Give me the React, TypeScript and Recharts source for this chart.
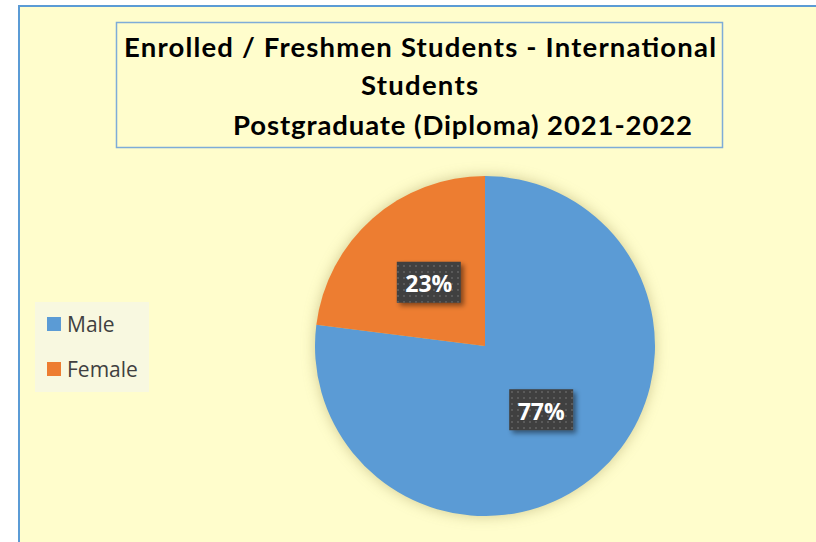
import { Cell, Legend, Pie, PieChart } from "recharts"

const categories = ["Male", "Female"]
const shares = [77, 23]
const COLORS = ["#5B9BD5", "#ED7D31"]

const titleLines = [
  "Enrolled / Freshmen Students - International",
  "Students",
  "Postgraduate (Diploma) 2021-2022",
]

const data = categories.map((name, i) => ({ name, value: shares[i] }))

const RADIAN = Math.PI / 180

function renderLabel(props: any) {
  const { cx, cy, midAngle, outerRadius, value } = props
  const r = outerRadius * 0.5
  const x = cx + r * Math.cos(-midAngle * RADIAN)
  const y = cy + r * Math.sin(-midAngle * RADIAN)
  const w = 64
  const h = 41
  return (
    <g>
      <rect x={x - w / 2} y={y - h / 2} width={w} height={h} fill="#404040" filter="url(#lblShadow)" />
      <rect x={x - w / 2} y={y - h / 2} width={w} height={h} fill="url(#dots)" />
      <text
        x={x}
        y={y + 1}
        textAnchor="middle"
        dominantBaseline="central"
        fill="#ffffff"
        fontFamily="'Open Sans', sans-serif"
        fontWeight={700}
        fontSize={23}
      >
        {value}%
      </text>
    </g>
  )
}

// legend drawn in the original order (Male, Female)
function LegendBox() {
  return (
    <div
      style={{
        width: 114,
        height: 90,
        background: "#F8F8E0",
        boxSizing: "border-box",
        paddingTop: 8,
        paddingLeft: 12,
        fontFamily: "'Open Sans', sans-serif",
        fontSize: 21,
        color: "#404040",
      }}
    >
      {categories.map((name, i) => (
        <div key={name} style={{ display: "flex", alignItems: "center", height: 28, marginBottom: i === 0 ? 17 : 0 }}>
          <span style={{ width: 14, height: 14, background: COLORS[i], display: "inline-block", marginRight: 6 }} />
          <span>{name}</span>
        </div>
      ))}
    </div>
  )
}

export default function App() {
  const titleStyle = { fontFamily: "Lato, sans-serif", fontWeight: 700, fontSize: 27.5, fill: "#000" }
  return (
    <div style={{ position: "absolute", left: 0, top: 0, width: 816, height: 542, background: "#ffffff", overflow: "hidden" }}>
      <style>{`.recharts-pie { filter: drop-shadow(0 0 7px rgba(120,110,40,0.35)); }`}</style>
      <div
        style={{
          position: "absolute",
          left: 18,
          top: 5,
          right: -2,
          bottom: -2,
          background: "#FFFDCC",
          borderLeft: "2px solid #5B9BD5",
          borderTop: "2px solid #5B9BD5",
        }}
      />
      <svg width={816} height={160} style={{ position: "absolute", left: 0, top: 0 }}>
        <rect x={116.5} y={22.5} width={606} height={125} fill="none" stroke="#7EACD8" strokeWidth={1.5} />
        <text x={420} y={57} textAnchor="middle" textLength={592} lengthAdjust="spacing" style={titleStyle}>
          {titleLines[0]}
        </text>
        <text x={419.5} y={95} textAnchor="middle" textLength={117} lengthAdjust="spacing" style={titleStyle}>
          {titleLines[1]}
        </text>
        <text x={462.5} y={135} textAnchor="middle" textLength={459} lengthAdjust="spacing" style={titleStyle}>
          {titleLines[2]}
        </text>
      </svg>
      <div style={{ position: "absolute", left: 0, top: 0 }}>
        <PieChart width={816} height={542} margin={{ top: 0, right: 0, bottom: 0, left: 0 }}>
          <defs>
            <pattern id="dots" width="6" height="6" patternUnits="userSpaceOnUse">
              <rect x="1" y="1" width="2" height="2" fill="#5a5a5a" />
            </pattern>
            <filter id="lblShadow" x="-30%" y="-30%" width="170%" height="170%">
              <feDropShadow dx="3" dy="3" stdDeviation="2.5" floodColor="#000" floodOpacity="0.45" />
            </filter>
          </defs>
          <Pie
            data={data}
            dataKey="value"
            nameKey="name"
            cx={485}
            cy={346}
            outerRadius={170}
            startAngle={90}
            endAngle={-270}
            stroke="none"
            labelLine={false}
            label={renderLabel}
            isAnimationActive={false}
          >
            {data.map((entry, index) => (
              <Cell key={`cell-${index}`} fill={COLORS[index % COLORS.length]} />
            ))}
          </Pie>
          <Legend
            layout="vertical"
            content={<LegendBox />}
            wrapperStyle={{ position: "absolute", left: 35, top: 302, width: 114, height: 90 }}
          />
        </PieChart>
      </div>
    </div>
  )
}
